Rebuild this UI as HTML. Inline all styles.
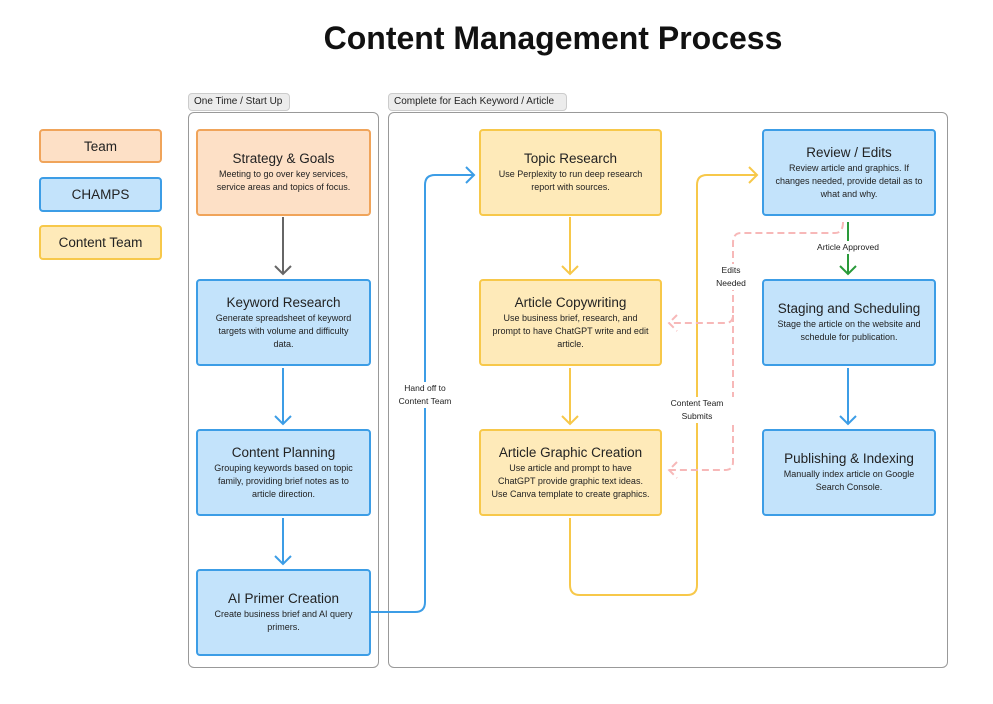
<!DOCTYPE html>
<html><head><style>
body{margin:0;width:993px;height:704px;background:#fff;font-family:"Liberation Sans",sans-serif;position:relative;overflow:hidden}
.a{position:absolute;box-sizing:border-box}
.box{border:2px solid;border-radius:4px;text-align:center;display:flex;flex-direction:column;justify-content:center;align-items:center;padding:0 10px}
.o{background:#fde0c6;border-color:#f0a45a}
.b{background:#c3e3fb;border-color:#3c9de6}
.y{background:#feeab9;border-color:#f7c84a}
.t{font-size:13.5px;color:#222;margin-bottom:2px}
.d{font-size:9px;color:#222;line-height:13px}
.tab{background:#ececec;border:1px solid #ccc;border-radius:4px;font-size:10px;color:#222;padding:2px 5px;line-height:12px}
.lbl{position:absolute;font-size:8.5px;color:#222;text-align:center;background:#fff;line-height:13px}
</style></head><body>
<div class="a" style="left:0;width:1106px;top:20px;text-align:center;font-size:32px;font-weight:bold;color:#111">Content Management Process</div>

<div class="a box o" style="left:39px;top:129px;width:123px;height:34px"><span class="t" style="margin:0">Team</span></div>
<div class="a box b" style="left:39px;top:177px;width:123px;height:35px"><span class="t" style="margin:0">CHAMPS</span></div>
<div class="a box y" style="left:39px;top:225px;width:123px;height:35px"><span class="t" style="margin:0">Content Team</span></div>

<div class="a tab" style="left:188px;top:93px;width:102px">One Time / Start Up</div>
<div class="a tab" style="left:388px;top:93px;width:179px">Complete for Each Keyword / Article</div>
<div class="a" style="left:188px;top:112px;width:191px;height:556px;border:1px solid #999;border-radius:6px"></div>
<div class="a" style="left:388px;top:112px;width:560px;height:556px;border:1px solid #999;border-radius:6px"></div>

<svg class="a" style="left:0;top:0" width="993" height="704">
<g fill="none" stroke-width="2">
<path d="M283 217V274M275 266l8 8 8-8" stroke="#666"/>
<path d="M283 368V424M275 416l8 8 8-8M283 518V564M275 556l8 8 8-8" stroke="#3c9de6"/>
<path d="M371 612H415Q425 612 425 602V185Q425 175 435 175H474M466 167l8 8-8 8" stroke="#3c9de6"/>
<path d="M570 217V274M562 266l8 8 8-8M570 368V424M562 416l8 8 8-8" stroke="#f7c84a"/>
<path d="M570 518V585Q570 595 580 595H687Q697 595 697 585V185Q697 175 707 175H757M749 167l8 8-8 8" stroke="#f7c84a"/>
<path d="M848 222V274M840 266l8 8 8-8" stroke="#2a9a3a"/>
<path d="M843 222Q843 233 835 233H741Q733 233 733 243V315Q733 323 725 323H669M677 315l-8 8 8 8M733 315V462Q733 470 725 470H669M677 462l-8 8 8 8" stroke="#f7b8b8" stroke-dasharray="7 4"/>
<path d="M848 368V424M840 416l8 8 8-8" stroke="#3c9de6"/>
</g></svg>

<div class="lbl" style="left:808px;top:241px;width:80px">Article Approved</div>
<div class="lbl" style="left:708px;top:264px;width:46px">Edits<br>Needed</div>
<div class="lbl" style="left:392px;top:382px;width:66px">Hand off to<br>Content Team</div>
<div class="lbl" style="left:660px;top:397px;width:74px">Content Team<br>Submits</div>

<div class="a box o" style="left:196px;top:129px;width:175px;height:87px"><div class="t">Strategy &amp; Goals</div><div class="d">Meeting to go over key services, service areas and topics of focus.</div></div>
<div class="a box b" style="left:196px;top:279px;width:175px;height:87px"><div class="t">Keyword Research</div><div class="d">Generate spreadsheet of keyword targets with volume and difficulty data.</div></div>
<div class="a box b" style="left:196px;top:429px;width:175px;height:87px"><div class="t">Content Planning</div><div class="d">Grouping keywords based on topic family, providing brief notes as to article direction.</div></div>
<div class="a box b" style="left:196px;top:569px;width:175px;height:87px"><div class="t">AI Primer Creation</div><div class="d">Create business brief and AI query primers.</div></div>

<div class="a box y" style="left:479px;top:129px;width:183px;height:87px"><div class="t">Topic Research</div><div class="d">Use Perplexity to run deep research report with sources.</div></div>
<div class="a box y" style="left:479px;top:279px;width:183px;height:87px"><div class="t">Article Copywriting</div><div class="d">Use business brief, research, and prompt to have ChatGPT write and edit article.</div></div>
<div class="a box y" style="left:479px;top:429px;width:183px;height:87px"><div class="t">Article Graphic Creation</div><div class="d">Use article and prompt to have ChatGPT provide graphic text ideas. Use Canva template to create graphics.</div></div>

<div class="a box b" style="left:762px;top:129px;width:174px;height:87px"><div class="t">Review / Edits</div><div class="d">Review article and graphics. If changes needed, provide detail as to what and why.</div></div>
<div class="a box b" style="left:762px;top:279px;width:174px;height:87px"><div class="t">Staging and Scheduling</div><div class="d">Stage the article on the website and schedule for publication.</div></div>
<div class="a box b" style="left:762px;top:429px;width:174px;height:87px"><div class="t">Publishing &amp; Indexing</div><div class="d">Manually index article on Google Search Console.</div></div>
</body></html>
